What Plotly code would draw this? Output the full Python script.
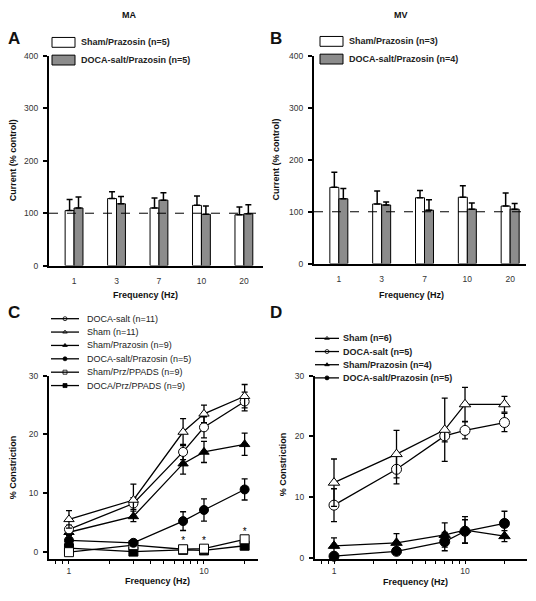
import plotly.graph_objects as go

# ---------------- data ----------------
bar_freqs = ["1", "3", "7", "10", "20"]
bar_yticks = [0, 100, 200, 300, 400]

ma_sham = [105, 128, 110, 115, 97]
ma_sham_err = [21, 13, 19, 18, 15]
ma_doca = [110, 118, 125, 98, 99]
ma_doca_err = [21, 14, 14, 16, 17]

mv_sham = [147, 115, 127, 128, 111]
mv_sham_err = [29, 25, 14, 22, 25]
mv_doca = [125, 113, 103, 105, 105]
mv_doca_err = [20, 6, 20, 12, 11]

freqs = [1, 3, 7, 10, 20]
log_tickvals = [0.7, 0.8, 0.9, 1, 2, 3, 4, 5, 6, 7, 8, 9, 10, 20]
log_ticktext = ["", "", "", "1", "", "", "", "", "", "", "", "", "10", ""]
con_yticks = [0, 10, 20, 30]

c_doca = [3.8, 8.2, 17.0, 21.2, 25.6]
c_doca_err = [0.7, 1.0, 1.3, 1.8, 1.6]
c_sham = [5.5, 8.8, 20.4, 23.5, 26.5]
c_sham_err = [1.5, 2.7, 2.3, 1.5, 2.0]
c_sham_prz = [3.3, 6.0, 15.0, 17.0, 18.3]
c_sham_prz_err = [0.6, 0.9, 1.8, 1.8, 1.9]
c_doca_prz = [1.9, 1.5, 5.2, 7.1, 10.6]
c_doca_prz_err = [0.5, 0.5, 1.6, 1.9, 1.8]
c_sham_ppads = [-0.1, 1.1, 0.4, 0.5, 2.1]
c_sham_ppads_err = [0.3, 0.4, 0.2, 0.3, 0.3]
c_doca_ppads = [0.6, 0.0, 0.3, 0.2, 1.0]
c_doca_ppads_err = [0.3, 0.2, 0.2, 0.2, 0.2]
c_sig_x = [7, 10, 20]
c_sig_y = [1.7, 1.7, 3.2]

d_sham = [12.4, 17.1, 21.1, 25.3, 25.3]
d_sham_err = [3.9, 3.9, 5.2, 2.8, 1.3]
d_doca = [8.7, 14.6, 20.1, 21.0, 22.3]
d_doca_err = [2.7, 2.4, 1.0, 1.4, 1.5]
d_sham_prz = [2.0, 2.5, 3.8, 4.6, 3.6]
d_sham_prz_err = [1.3, 1.5, 2.0, 2.2, 0.9]
d_doca_prz = [0.3, 1.1, 2.7, 4.4, 5.7]
d_doca_prz_err = [0.2, 0.3, 1.5, 1.9, 2.0]

# ---------------- layout helpers ----------------
W, H = 536, 601
FONT = "Liberation Sans, Arial, sans-serif"
GRAY = "#8c8c8c"


def px(x):
    return x / W


def py(y):
    return 1 - y / H


fig = go.Figure()


def bar_err(err):
    return dict(type="data", array=err, arrayminus=[0] * len(err), symmetric=False,
                color="black", thickness=1.5, width=3)


# Panel A
fig.add_trace(go.Bar(x=bar_freqs, y=ma_sham, error_y=bar_err(ma_sham_err), offsetgroup="a",
                     marker=dict(color="white", line=dict(color="black", width=1)),
                     xaxis="x", yaxis="y", showlegend=False))
fig.add_trace(go.Bar(x=bar_freqs, y=ma_doca, error_y=bar_err(ma_doca_err), offsetgroup="b",
                     marker=dict(color=GRAY, line=dict(color="black", width=1)),
                     xaxis="x", yaxis="y", showlegend=False))
# Panel B
fig.add_trace(go.Bar(x=bar_freqs, y=mv_sham, error_y=bar_err(mv_sham_err), offsetgroup="a",
                     marker=dict(color="white", line=dict(color="black", width=1)),
                     xaxis="x2", yaxis="y2", showlegend=False))
fig.add_trace(go.Bar(x=bar_freqs, y=mv_doca, error_y=bar_err(mv_doca_err), offsetgroup="b",
                     marker=dict(color=GRAY, line=dict(color="black", width=1)),
                     xaxis="x2", yaxis="y2", showlegend=False))


def line_trace(y, err, symbol, fill, size, xa, ya):
    return go.Scatter(
        x=freqs, y=y, mode="lines+markers",
        line=dict(color="black", width=1.3),
        marker=dict(symbol=symbol, size=size, color=fill, line=dict(color="black", width=1)),
        error_y=dict(type="data", array=err, color="black", thickness=1.3, width=3),
        xaxis=xa, yaxis=ya, showlegend=False, cliponaxis=False)


# Panel C
c_series = [
    (c_doca_ppads, c_doca_ppads_err, "square", "black"),
    (c_sham_ppads, c_sham_ppads_err, "square", "white"),
    (c_doca_prz, c_doca_prz_err, "circle", "black"),
    (c_sham_prz, c_sham_prz_err, "triangle-up", "black"),
    (c_doca, c_doca_err, "circle", "white"),
    (c_sham, c_sham_err, "triangle-up", "white"),
]
for y, e, s, f in c_series:
    fig.add_trace(line_trace(y, e, s, f, 9, "x3", "y3"))
fig.add_trace(go.Scatter(x=c_sig_x, y=c_sig_y, mode="text", text=["*"] * len(c_sig_x),
                         textfont=dict(family=FONT, size=10, color="#000000"),
                         xaxis="x3", yaxis="y3", showlegend=False))

# Panel D
d_series = [
    (d_doca_prz, d_doca_prz_err, "circle", "black"),
    (d_sham_prz, d_sham_prz_err, "triangle-up", "black"),
    (d_doca, d_doca_err, "circle", "white"),
    (d_sham, d_sham_err, "triangle-up", "white"),
]
for y, e, s, f in d_series:
    fig.add_trace(line_trace(y, e, s, f, 10, "x4", "y4"))

# ---------------- manual legends (pixel overlay) ----------------
annotations = []
shapes = []


def legend_sample(x0, x1, yy, sym, fill):
    shapes.append(dict(type="line", xref="paper", yref="paper", x0=px(x0), x1=px(x1),
                       y0=py(yy), y1=py(yy), line=dict(color="black", width=1.3)))
    fig.add_trace(go.Scatter(x=[(x0 + x1) / 2], y=[yy], mode="markers",
                             marker=dict(symbol=sym, size=4, color=fill,
                                         line=dict(color="black", width=0.8)),
                             xaxis="x5", yaxis="y5", showlegend=False, hoverinfo="skip"))


c_legend = [("DOCA-salt (n=11)", "circle", "white"),
            ("Sham (n=11)", "triangle-up", "white"),
            ("Sham/Prazosin (n=9)", "triangle-up", "black"),
            ("DOCA-salt/Prazosin (n=5)", "circle", "black"),
            ("Sham/Prz/PPADS (n=9)", "square", "white"),
            ("DOCA/Prz/PPADS (n=9)", "square", "black")]
for i, (name, sym, fill) in enumerate(c_legend):
    yy = 319 + i * 13.6
    legend_sample(51, 79, yy, sym, fill)
    annotations.append(dict(x=px(85), y=py(yy), xref="paper", yref="paper", text=name,
                            showarrow=False, xanchor="left", yanchor="middle",
                            font=dict(family=FONT, size=9, color="#222")))

d_legend = [("Sham (n=6)", "triangle-up", "white"),
            ("DOCA-salt (n=5)", "circle", "white"),
            ("Sham/Prazosin (n=4)", "triangle-up", "black"),
            ("DOCA-salt/Prazosin (n=5)", "circle", "black")]
for i, (name, sym, fill) in enumerate(d_legend):
    yy = 339 + i * 13.4
    legend_sample(315, 339, yy, sym, fill)
    annotations.append(dict(x=px(341), y=py(yy), xref="paper", yref="paper", text="<b>" + name + "</b>",
                            showarrow=False, xanchor="left", yanchor="middle",
                            font=dict(family=FONT, size=9, color="#222")))

bar_legends = [
    (52, 38, ["Sham/Prazosin (n=5)", "DOCA-salt/Prazosin (n=5)"]),
    (320, 37, ["Sham/Prazosin (n=3)", "DOCA-salt/Prazosin (n=4)"]),
]
for x0, y0, names in bar_legends:
    for i, name in enumerate(names):
        yy = y0 + i * 18
        shapes.append(dict(type="rect", xref="paper", yref="paper",
                           x0=px(x0), x1=px(x0 + 23), y0=py(yy - 5), y1=py(yy + 5),
                           fillcolor="white" if i == 0 else GRAY,
                           line=dict(color="black", width=1)))
        annotations.append(dict(x=px(x0 + 27), y=py(yy), xref="paper", yref="paper",
                                text="<b>" + name + "</b>", showarrow=False,
                                xanchor="left", yanchor="middle",
                                font=dict(family=FONT, size=9, color="#222")))

# dashed 100% lines
for xr, yr in [("x domain", "y"), ("x2 domain", "y2")]:
    shapes.append(dict(type="line", xref=xr, yref=yr, x0=0, x1=1, y0=100, y1=100,
                       line=dict(color="black", width=1, dash="dash"), layer="above"))

# titles, panel letters, axis titles
texts = [
    ("<b>MA</b>", 129, 10, 9, 0), ("<b>MV</b>", 401, 10, 9, 0),
    ("<b>A</b>", 14, 34, 17, 0), ("<b>B</b>", 276, 34, 17, 0),
    ("<b>C</b>", 14, 313, 17, 0), ("<b>D</b>", 276, 313, 17, 0),
    ("<b>Current (% control)</b>", 13, 158, 9, -90),
    ("<b>Current (% control)</b>", 276, 157, 9, -90),
    ("<b>% Constriction</b>", 13, 470, 9, -90),
    ("<b>% Constriction</b>", 283, 467, 9, -90),
    ("<b>Frequency (Hz)</b>", 145, 295, 9, 0),
    ("<b>Frequency (Hz)</b>", 411, 295, 9, 0),
    ("<b>Frequency (Hz)</b>", 157, 586, 9, 0),
    ("<b>Frequency (Hz)</b>", 415, 587, 9, 0),
]
for t, x, y, s, ang in texts:
    annotations.append(dict(x=px(x), y=py(y), xref="paper", yref="paper", text=t,
                            showarrow=False, xanchor="center", yanchor="middle", textangle=ang,
                            font=dict(family=FONT, size=s, color="#111")))

axis_common = dict(showline=True, linecolor="black", linewidth=2, showgrid=False, zeroline=False,
                   tickfont=dict(family=FONT, size=8.5, color="#333"), tickcolor="black",
                   fixedrange=True)

fig.update_layout(
    width=W, height=H, margin=dict(l=0, r=0, t=0, b=0),
    paper_bgcolor="white", plot_bgcolor="rgba(0,0,0,0)",
    barmode="group", bargap=0.58, bargroupgap=0,
    font=dict(family=FONT),
    xaxis=dict(domain=[px(49), px(263)], type="category", range=[-0.59, 4.45], ticks="",
               anchor="y", ticklabelstandoff=6, **axis_common),
    yaxis=dict(domain=[py(265), py(52)], range=[0, 400], tickvals=bar_yticks, ticks="outside",
               ticklen=4, tickwidth=1.5, anchor="x", ticklabelstandoff=3, **axis_common),
    xaxis2=dict(domain=[px(314), px(526)], type="category", range=[-0.58, 4.37], ticks="",
                anchor="y2", ticklabelstandoff=6, **axis_common),
    yaxis2=dict(domain=[py(263), py(52)], range=[0, 400], tickvals=bar_yticks, ticks="outside",
                ticklen=4, tickwidth=1.5, anchor="x2", ticklabelstandoff=3, **axis_common),
    xaxis3=dict(domain=[px(49), px(258)], type="log", range=[-0.148, 1.40], tickvals=log_tickvals,
                ticktext=log_ticktext, ticks="outside", ticklen=3, tickwidth=1.3, anchor="y3",
                **axis_common),
    yaxis3=dict(domain=[py(563), py(377)], range=[-1.2, 30], tickvals=con_yticks, ticks="outside",
                ticklen=4, tickwidth=1.5, anchor="x3", ticklabelstandoff=3, **axis_common),
    xaxis4=dict(domain=[px(315), px(527)], type="log", range=[-0.145, 1.473], tickvals=log_tickvals,
                ticktext=log_ticktext, ticks="outside", ticklen=3, tickwidth=1.3, anchor="y4",
                **axis_common),
    yaxis4=dict(domain=[py(563), py(377)], range=[-0.1, 30], tickvals=con_yticks, ticks="outside",
                ticklen=4, tickwidth=1.5, anchor="x4", ticklabelstandoff=3, **axis_common),
    xaxis5=dict(domain=[0, 1], range=[0, W], visible=False, fixedrange=True, anchor="y5"),
    yaxis5=dict(domain=[0, 1], range=[H, 0], visible=False, fixedrange=True, anchor="x5"),
    annotations=annotations,
    shapes=shapes,
)

fig.write_html("out.html", config={"displayModeBar": False},
               post_script="document.body.style.margin='0px';document.body.style.overflow='hidden';")
